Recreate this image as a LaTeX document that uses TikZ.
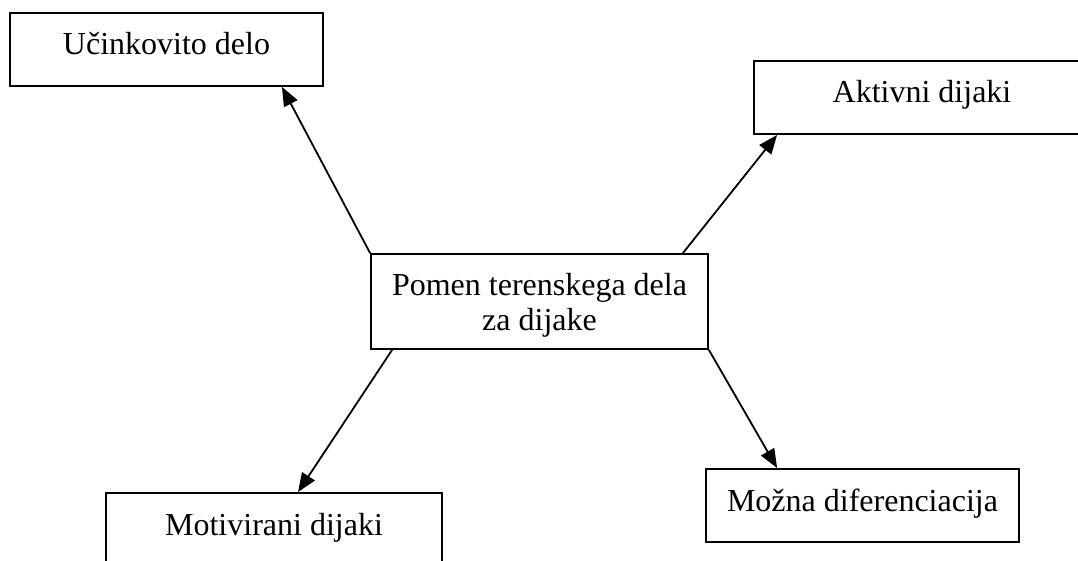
\documentclass[tikz,border=0pt]{standalone}
\usepackage{fontspec}
\setmainfont{Liberation Serif}
\usetikzlibrary{arrows.meta}

\begin{document}
\begin{tikzpicture}[x=1pt,y=-1pt,line width=1.8pt,
		box/.style={draw,rectangle,inner sep=0pt,minimum height=73pt,text height=24pt,text depth=13pt,
			font=\fontsize{32}{35}\selectfont}]
		\useasboundingbox (0,0) rectangle (1078,561);
		\clip (0,0) rectangle (1078,561);
		\node[box,minimum width=313pt] (ucin) at (166.5,49.5) {Učinkovito delo};
		\node[box,minimum width=336pt] (aktiv) at (922,97.5) {Aktivni dijaki};
		\node[box,minimum width=337pt,minimum height=95pt,text height=64pt,text depth=7pt,align=center] (pomen) at (539.5,301.5) {Pomen terenskega dela\\za dijake};
		\node[box,minimum width=336pt] (motiv) at (274,529.5) {Motivirani dijaki};
		\node[box,minimum width=313pt] (mozna) at (862.5,505.5) {Možna diferenciacija};
		\path[-{Triangle[length=19pt,width=15pt]}]
		(pomen.north west) edge ([xshift=-42pt]ucin.south east)
		([xshift=-26pt]pomen.north east) edge ([xshift=24pt]aktiv.south west)
		([xshift=22pt]pomen.south west) edge ([xshift=24pt]motiv.north)
		(pomen.south east) edge ([xshift=72pt]mozna.north west);
	\end{tikzpicture}
\end{document}
